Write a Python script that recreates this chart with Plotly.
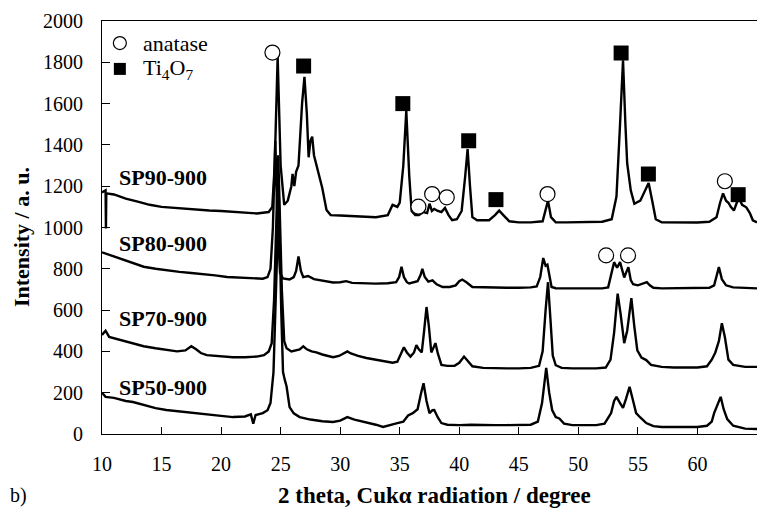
import plotly.graph_objects as go

# ---------------- data ----------------
sp90_x = [10.0,10.3,10.33,10.36,11,12,13,14,15,16,17,18,19,20,21,22,23,24,24.3,24.5,24.75,25.0,25.3,25.6,25.9,26.0,26.15,26.3,26.5,26.8,27.0,27.2,27.35,27.5,27.65,27.8,28.1,28.5,28.85,29.2,30,31,32,33,34,34.4,34.8,35.0,35.3,35.55,35.8,36.0,36.3,36.6,37.0,37.3,37.5,37.7,37.9,38.2,38.5,38.8,39.1,39.4,39.8,40.2,40.5,40.7,40.9,41.1,41.5,42,42.5,43.0,43.35,43.7,44.2,45,46,47,47.25,47.45,47.7,48.1,49,50,51,52,52.8,53.2,53.5,53.75,53.95,54.1,54.4,54.7,55.2,55.6,55.9,56.2,56.5,57,58,59,60,61,61.6,61.9,62.15,62.4,62.6,62.8,63.06,63.3,63.5,63.75,64.1,64.4,64.65,65]
sp90_y = [1170,1180,995,1165,1160,1140,1125,1110,1100,1095,1090,1085,1082,1080,1075,1070,1068,1075,1100,1300,1825,1300,1110,1130,1200,1260,1200,1270,1300,1600,1730,1550,1340,1420,1440,1350,1275,1190,1085,1060,1058,1055,1052,1050,1060,1110,1100,1120,1300,1565,1250,1080,1060,1060,1075,1070,1115,1080,1090,1080,1075,1095,1060,1035,1040,1080,1250,1380,1200,1050,1035,1035,1035,1060,1082,1060,1030,1025,1025,1030,1080,1130,1050,1025,1025,1025,1025,1028,1040,1150,1500,1810,1500,1310,1180,1115,1130,1180,1215,1130,1040,1025,1024,1024,1024,1028,1050,1120,1165,1130,1120,1100,1082,1120,1140,1110,1098,1070,1035,1025]

sp80_x = [10.0,10.5,11,12,12.6,13.5,14.5,15.4,16.5,17.5,18.5,19.5,20.5,21.5,22.5,23.5,23.9,24.15,24.35,24.55,24.75,24.95,25.2,25.5,25.75,26.1,26.3,26.5,26.7,26.9,27.3,27.8,28.3,28.8,29.4,30.0,30.5,31,32.2,33,34,34.7,34.95,35.15,35.35,35.6,35.8,36.1,36.5,36.75,36.9,37.1,37.4,37.75,38.1,38.6,39.2,39.7,40.0,40.25,40.6,41.1,42,43,44,45,46,46.5,46.8,47.05,47.25,47.4,47.55,47.75,48.1,49,50,51,52,52.5,52.8,53.0,53.25,53.5,53.7,53.85,54.0,54.2,54.4,54.6,55.0,55.5,55.75,56.0,56.3,57,58,59,60,61,61.4,61.6,61.8,62.05,62.4,63,64,65]
sp80_y = [880,870,860,840,826,810,800,792,785,780,775,768,760,757,755,752,760,800,1000,1420,1000,780,753,750,748,760,790,860,790,760,765,750,745,738,734,735,740,732,729,728,730,735,760,810,760,735,729,735,740,770,800,760,738,744,725,712,712,720,740,748,735,712,710,708,708,708,710,715,760,852,815,820,770,712,706,705,705,705,705,710,775,832,805,832,790,758,780,808,745,725,720,730,735,720,708,705,705,705,705,708,720,770,808,750,720,710,706,705]

sp70_x = [10.0,10.3,10.6,11.5,12.6,13.5,14.5,15.4,16.3,17.0,17.5,17.9,18.3,18.8,19.5,20.3,21.0,22.0,23.0,23.6,24.0,24.25,24.45,24.8,25.1,25.3,25.5,25.9,26.3,26.6,26.9,27.2,27.6,28.0,28.5,29.0,29.4,29.9,30.3,30.6,30.9,31.5,32.2,33.0,33.8,34.4,34.8,35.1,35.35,35.6,35.9,36.2,36.4,36.6,36.85,37.05,37.25,37.45,37.65,37.85,38.0,38.2,38.5,39.0,39.6,40.0,40.4,40.7,41.1,42,43,44,45,46,46.7,47.0,47.25,47.45,47.65,47.85,48.1,48.6,49.5,50.5,51.5,52.3,52.7,53.0,53.3,53.55,53.85,54.1,54.45,54.7,54.95,55.3,55.7,56.1,57,58,59,60,60.8,61.2,61.5,61.8,62.05,62.3,62.6,63.0,64,65]
sp70_y = [480,500,470,455,438,425,415,406,400,405,425,410,392,382,378,375,372,372,375,382,400,440,650,1350,700,450,415,400,405,410,425,410,400,395,385,378,372,378,390,400,390,378,368,360,352,345,350,385,420,395,375,395,430,410,395,500,615,520,395,420,440,390,335,330,330,345,375,355,328,320,318,318,318,320,330,400,600,735,560,380,333,320,318,318,318,322,360,490,680,580,440,500,658,520,405,370,358,335,325,322,322,322,328,360,395,450,536,470,360,335,325,325]

sp50_x = [10.0,10.3,11,12.0,12.6,13.5,14.5,15.4,16.5,17.5,18.2,19.0,20.0,21.0,22.0,22.5,22.7,22.9,23.5,23.9,24.15,24.4,24.6,24.85,25.05,25.2,25.35,25.5,25.75,26.1,26.6,27.5,28.5,29.4,30.0,30.6,31.2,32.2,33.0,33.6,34.2,34.8,35.3,35.7,36.1,36.5,36.8,37.0,37.25,37.5,37.75,37.9,38.2,38.5,39.0,40.0,41,42,43,44,45,46,46.6,46.95,47.3,47.55,47.8,48.1,48.4,48.8,49.5,50.5,51.5,52.2,52.75,53.0,53.2,53.5,53.75,54.0,54.3,54.6,54.85,55.2,55.7,56.3,57,58,59,60,60.8,61.2,61.4,61.7,61.95,62.2,62.5,63,64,65]
sp50_y = [200,180,175,160,155,140,125,116,110,105,101,95,88,82,85,95,50,92,101,115,150,300,700,1150,600,300,262,230,130,100,82,70,62,58,65,82,70,58,45,34,45,53,60,90,101,120,200,246,160,101,115,116,80,53,45,43,45,43,43,43,43,45,60,150,320,200,116,82,75,50,43,43,43,50,101,160,180,150,126,170,228,160,101,80,53,38,34,34,34,34,40,60,101,140,180,120,72,40,26,24]

# phase markers on the peaks
anatase_x = [24.31, 36.57, 37.72, 38.95, 47.41, 62.3, 52.33, 54.17]
anatase_y = [1847, 1101, 1162, 1146, 1162, 1224, 865, 865]
ti4o7_x = [26.93, 35.26, 40.79, 43.08, 53.59, 55.88, 63.42]
ti4o7_y = [1782, 1600, 1420, 1135, 1845, 1259, 1159]

series_names = ["SP90-900", "SP80-900", "SP70-900", "SP50-900"]
label_x = [11.26, 11.26, 11.26, 11.26]
label_y = [1241, 922, 560, 227]

legend_names = ["anatase", "Ti<sub>4</sub>O<sub>7</sub>"]
legend_x = [11.5, 11.5]
legend_y = [1893, 1768]

x_ticks = [10, 15, 20, 25, 30, 35, 40, 45, 50, 55, 60, 65]
y_ticks = [0, 200, 400, 600, 800, 1000, 1200, 1400, 1600, 1800, 2000]

FONT = "Liberation Serif, Times New Roman, serif"

fig = go.Figure()
for xs, ys in [(sp90_x, sp90_y), (sp80_x, sp80_y), (sp70_x, sp70_y), (sp50_x, sp50_y)]:
    fig.add_trace(go.Scatter(x=xs, y=ys, mode="lines",
                             line=dict(color="black", width=2.4), showlegend=False))

fig.add_trace(go.Scatter(x=anatase_x, y=anatase_y, mode="markers",
                         marker=dict(symbol="circle", size=15, color="white",
                                     line=dict(width=1.2, color="black")),
                         showlegend=False))
fig.add_trace(go.Scatter(x=[legend_x[0]], y=[legend_y[0]], mode="markers",
                         marker=dict(symbol="circle", size=13, color="white",
                                     line=dict(width=1.2, color="black")),
                         showlegend=False))
fig.add_trace(go.Scatter(x=ti4o7_x, y=ti4o7_y, mode="markers",
                         marker=dict(symbol="square", size=15, color="black"),
                         showlegend=False))
fig.add_trace(go.Scatter(x=[legend_x[1]], y=[legend_y[1]], mode="markers",
                         marker=dict(symbol="square", size=12, color="black"),
                         showlegend=False))

annotations = []
for name, lx, ly in zip(series_names, label_x, label_y):
    annotations.append(dict(x=lx, y=ly, xref="x", yref="y", text=f"<b>{name}</b>",
                            showarrow=False, xanchor="left", yanchor="middle",
                            font=dict(family=FONT, size=22, color="black")))
for name, lx, ly in zip(legend_names, legend_x, legend_y):
    annotations.append(dict(x=lx + 1.75, y=ly, xref="x", yref="y", text=name,
                            showarrow=False, xanchor="left", yanchor="middle",
                            font=dict(family=FONT, size=22, color="black")))

annotations.append(dict(x=0.507, y=-0.148, xref="paper", yref="paper",
                        text="<b>2 theta, Cukα radiation / degree</b>", showarrow=False,
                        xanchor="center", yanchor="middle",
                        font=dict(family=FONT, size=23, color="black")))
annotations.append(dict(x=-0.1221, y=0.477, xref="paper", yref="paper",
                        text="<b>Intensity / a. u.</b>", showarrow=False, textangle=-90,
                        xanchor="center", yanchor="middle",
                        font=dict(family=FONT, size=22, color="black")))
annotations.append(dict(x=-0.1435, y=-0.148, xref="paper", yref="paper",
                        text="b)", showarrow=False, xanchor="left", yanchor="middle",
                        font=dict(family=FONT, size=20, color="black")))

# the page body has an 8px margin: shrink the figure and shift its margins
fig.update_layout(
    width=757, height=503,
    margin=dict(l=94, r=8, t=13, b=77, autoexpand=False),
    paper_bgcolor="white", plot_bgcolor="white",
    font=dict(family=FONT, size=20, color="black"),
    annotations=annotations,
    showlegend=False,
)
fig.update_xaxes(range=[10, 65], tickvals=x_ticks, ticktext=[str(v) for v in x_ticks],
                 ticks="inside", ticklen=7, tickcolor="black", tickwidth=1,
                 showline=True, linecolor="black", linewidth=1, mirror=True,
                 showgrid=False, zeroline=False, ticklabelstandoff=12, automargin=False,
                 tickfont=dict(family=FONT, size=20, color="black"))
fig.update_yaxes(range=[0, 2000], tickvals=y_ticks, ticktext=[str(v) for v in y_ticks],
                 ticks="inside", ticklen=8, tickcolor="black", tickwidth=1,
                 showline=True, linecolor="black", linewidth=1, mirror=True,
                 showgrid=False, zeroline=False, ticklabelstandoff=14, automargin=False,
                 tickfont=dict(family=FONT, size=20, color="black"))

fig.write_html("out.html")
